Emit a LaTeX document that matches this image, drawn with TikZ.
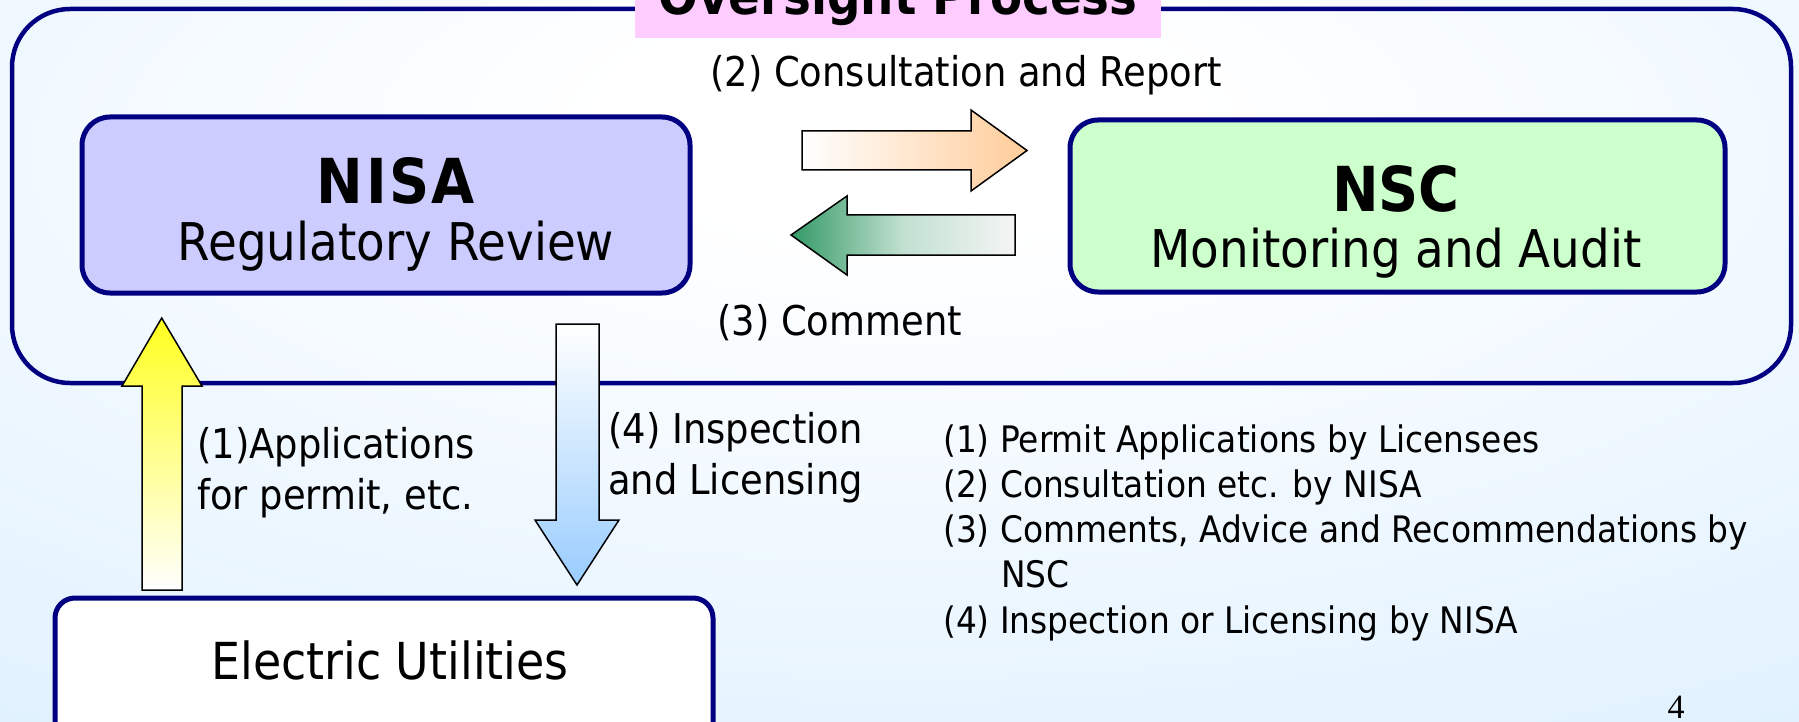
\documentclass[tikz,border=0pt]{standalone}
\usepackage{fontspec}
\setmainfont{DejaVu Sans}[FakeStretch=0.9]
\newfontfamily\pagefont{Liberation Serif}
\definecolor{navy}{RGB}{0,0,128}
\definecolor{bgblue}{RGB}{224,241,255}
\definecolor{pinkbg}{RGB}{255,204,255}
\definecolor{lav}{RGB}{204,204,255}
\definecolor{mint}{RGB}{204,255,204}
\definecolor{peach}{RGB}{255,204,153}
\definecolor{seagreen}{RGB}{51,153,102}
\definecolor{yel}{RGB}{255,255,30}
\definecolor{skyb}{RGB}{153,204,255}
\pgfdeclareradialshading{bgsh}{\pgfpoint{0bp}{18bp}}{color(0bp)=(white); color(8bp)=(white); color(45bp)=(bgblue); color(120bp)=(bgblue)}
\begin{document}
\begin{tikzpicture}[x=1pt,y=-1pt,
  lbl/.style={inner sep=0pt, anchor=base west, font=\fontsize{41pt}{49pt}\selectfont},
  lst/.style={inner sep=0pt, anchor=base west, font=\fontsize{36.5pt}{44pt}\selectfont},
  big/.style={inner sep=0pt, anchor=base, font=\fontsize{52pt}{60pt}\selectfont},
  headt/.style={inner sep=0pt, anchor=base, font=\fontsize{62pt}{70pt}\selectfont\bfseries},
  bx/.style={draw=navy, line width=5pt, rounded corners=28pt, inner sep=0pt},
  blk/.style={draw=black, line width=1.5pt, line join=miter}]
\useasboundingbox (0,0) rectangle (1799,722);
\shade[shading=bgsh] (0,0) rectangle (1799,722);
% outer frame
\node[draw=navy, line width=4.5pt, rounded corners=58pt, inner sep=0pt,
      minimum width=1779pt, minimum height=374pt] (frame) at (901.5,196) {};
% title
\node[fill=pinkbg, inner sep=0pt, minimum width=526pt, minimum height=44pt] (titlebox) at (898,16) {};
\node[inner sep=0pt, anchor=base, font=\fontsize{52pt}{60pt}\selectfont\bfseries] (title) at (898,15) {Oversight Process};
% boxes
\node[bx, fill=lav, minimum width=608pt, minimum height=176pt] (nisa) at (386,205) {};
\node[headt, font=\fontsize{62pt}{70pt}\selectfont\bfseries\addfontfeature{LetterSpace=4}] (nisaT) at (396,204) {NISA};
\node[big] (nisaS) at (396,260) {Regulatory Review};
\node[bx, fill=mint, minimum width=655pt, minimum height=172pt] (nsc) at (1397.5,206) {};
\node[headt] (nscT) at (1396,212) {NSC};
\node[big] (nscS) at (1396,267) {Monitoring and Audit};
\node[bx, rounded corners=20pt, fill=white, minimum width=658pt, minimum height=200pt] (eu) at (384,698) {};
\node[big, font=\fontsize{51pt}{60pt}\selectfont] (euT) at (390,679) {Electric Utilities};
% block arrows
\path[blk, left color=white, right color=peach]
  (802,131) -- (971,131) -- (971,110) -- (1027,150.5) -- (971,191) -- (971,170) -- (802,170) -- cycle;
\path[blk, left color=seagreen, right color=white!96!black, middle color=white!70!seagreen]
  (1015,215) -- (847,215) -- (847,196) -- (791,235) -- (847,275) -- (847,255) -- (1015,255) -- cycle;
\path[blk, top color=yel, bottom color=white]
  (142,590) -- (142,386) -- (122,386) -- (161.7,318) -- (202,386) -- (182,386) -- (182,590) -- cycle;
\path[blk, top color=white, bottom color=skyb]
  (556,324) -- (599,324) -- (599,520) -- (619,520) -- (577,585) -- (535,520) -- (556,520) -- cycle;
% labels
\node[lbl] (l2) at (710,87) {(2) Consultation and Report};
\node[lbl] (l3) at (717,335) {(3) Comment};
\node[lbl] (l1a) at (197,458) {(1)Applications};
\node[lbl] (l1b) at (197,509) {for permit, etc.};
\node[lbl] (l4a) at (608,443) {(4) Inspection};
\node[lbl] (l4b) at (608,494) {and Licensing};
% list
\node[lst] (k1) at (943,452) {(1) Permit Applications by Licensees};
\node[lst] (k2) at (943,497) {(2) Consultation etc. by NISA};
\node[lst] (k3) at (943,542) {(3) Comments, Advice and Recommendations by};
\node[lst] (k3b) at (1001,587) {NSC};
\node[lst] (k4) at (943,633) {(4) Inspection or Licensing by NISA};
\node[inner sep=0pt, anchor=base, font=\pagefont\fontsize{34pt}{40pt}\selectfont] (pg) at (1676,718) {4};
\end{tikzpicture}
\end{document}
